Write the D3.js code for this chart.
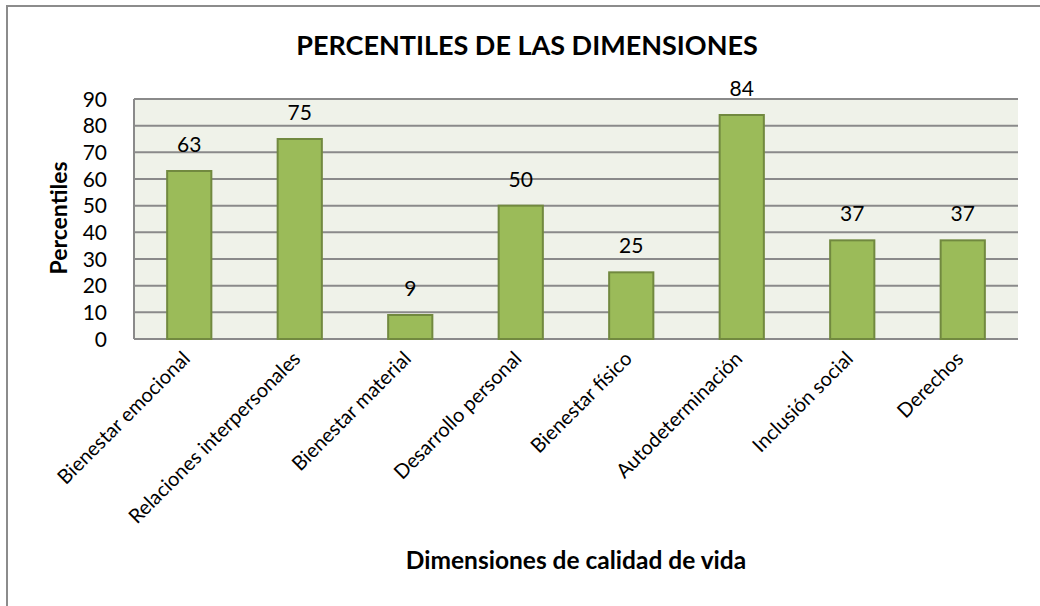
<!DOCTYPE html>
<html>
<head>
<meta charset="utf-8">
<script src="https://cdn.jsdelivr.net/npm/d3@7"></script>
<style>
  body { margin: 0; background: #fff; }
  text { font-family: Lato, "Open Sans", sans-serif; fill: #000; }
</style>
</head>
<body>
<div id="chart"></div>
<script>
const categories = ["Bienestar emocional", "Relaciones interpersonales", "Bienestar material",
    "Desarrollo personal", "Bienestar físico", "Autodeterminación", "Inclusión social", "Derechos"];
const values = [63, 75, 9, 50, 25, 84, 37, 37];
const yTicks = [0, 10, 20, 30, 40, 50, 60, 70, 80, 90];

const W = 1040, H = 606;
const margin = {top: 99, right: 22, bottom: 267, left: 134};
const width = W - margin.left - margin.right;
const height = H - margin.top - margin.bottom;

const svg = d3.select("#chart").append("svg")
    .attr("width", W)
    .attr("height", H);

// outer frame
svg.append("rect")
    .attr("x", 7).attr("y", 6)
    .attr("width", W + 10).attr("height", H + 10)
    .attr("fill", "none")
    .attr("stroke", "#8c8c8c")
    .attr("stroke-width", 2);

const g = svg.append("g")
    .attr("transform", `translate(${margin.left},${margin.top})`);

const x = d3.scaleBand()
    .domain(categories)
    .range([0, width])
    .paddingInner(0.6)
    .paddingOuter(0.3);

const y = d3.scaleLinear()
    .domain([0, 90])
    .range([height, 0]);

// plot background
g.append("rect")
    .attr("width", width).attr("height", height)
    .attr("fill", "#eff2e9");

// gridlines
g.selectAll(".grid")
    .data(yTicks)
    .enter().append("line")
    .attr("x1", 0).attr("x2", width)
    .attr("y1", d => y(d)).attr("y2", d => y(d))
    .attr("stroke", "#8a8a8a")
    .attr("stroke-width", 2);

// left axis line
g.append("line")
    .attr("x1", 0).attr("x2", 0)
    .attr("y1", 0).attr("y2", height)
    .attr("stroke", "#8a8a8a")
    .attr("stroke-width", 2);

// bars
g.selectAll(".bar")
    .data(values)
    .enter().append("rect")
    .attr("x", (d, i) => x(categories[i]))
    .attr("y", d => y(d))
    .attr("width", x.bandwidth())
    .attr("height", d => height - y(d))
    .attr("fill", "#9bbb59")
    .attr("stroke", "#71893f")
    .attr("stroke-width", 2);

// value labels
g.selectAll(".val")
    .data(values)
    .enter().append("text")
    .attr("x", (d, i) => x(categories[i]) + x.bandwidth() / 2)
    .attr("y", d => y(d) - 19)
    .attr("text-anchor", "middle")
    .style("font-size", "21px")
    .text(d => d);

// y tick labels
g.selectAll(".ytick")
    .data(yTicks)
    .enter().append("text")
    .attr("x", -27)
    .attr("y", d => y(d))
    .attr("dy", "0.36em")
    .attr("text-anchor", "end")
    .style("font-size", "21px")
    .text(d => d);

// category labels, rotated
g.selectAll(".xlab")
    .data(categories)
    .enter().append("text")
    .attr("transform", d => `translate(${x(d) + x.bandwidth() / 2 + 2},${height + 21}) rotate(-45)`)
    .attr("text-anchor", "end")
    .style("font-size", "20px")
    .text(d => d);

// title
svg.append("text")
    .attr("x", 527).attr("y", 55)
    .attr("text-anchor", "middle")
    .style("font-size", "27px")
    .style("font-weight", "bold")
    .text("PERCENTILES DE LAS DIMENSIONES");

// axis titles
svg.append("text")
    .attr("transform", "translate(67,218) rotate(-90)")
    .attr("text-anchor", "middle")
    .style("font-size", "23px")
    .style("font-weight", "bold")
    .text("Percentiles");

svg.append("text")
    .attr("x", 576).attr("y", 569)
    .attr("text-anchor", "middle")
    .style("font-size", "24.5px")
    .style("font-weight", "bold")
    .text("Dimensiones de calidad de vida");
</script>
</body>
</html>
